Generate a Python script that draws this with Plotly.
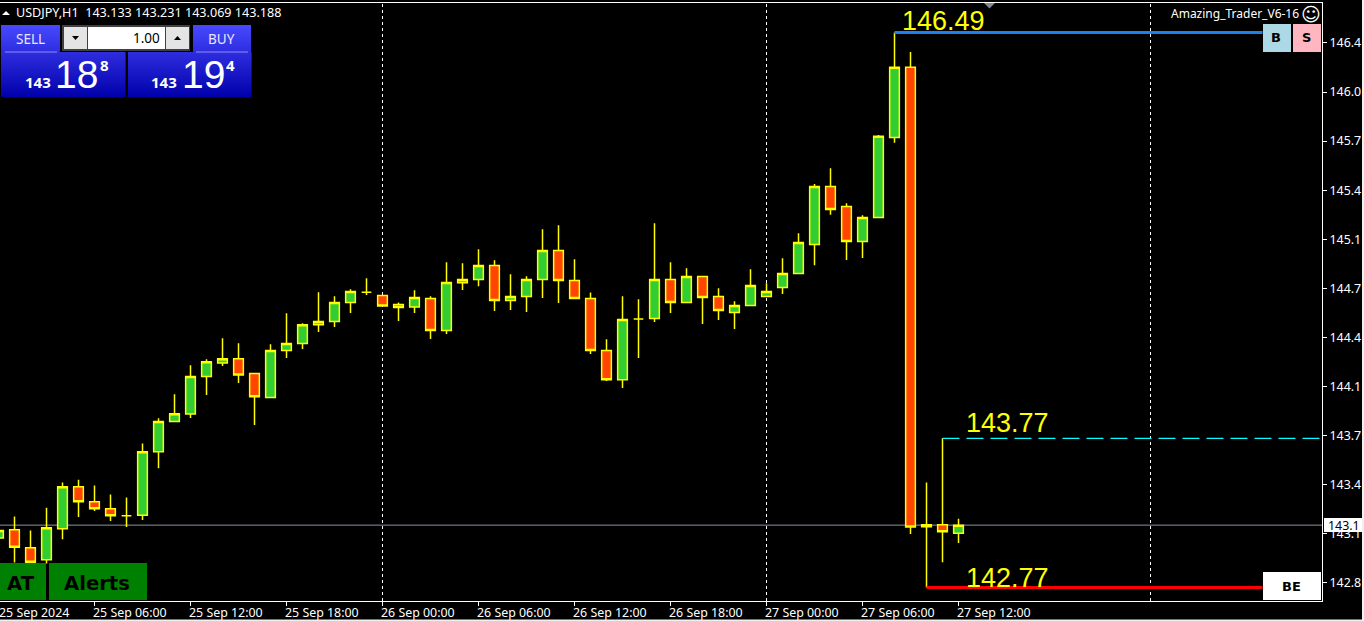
import plotly.graph_objects as go

# ---- data -------------------------------------------------------------
bar_index = list(range(61))
opens = [143.101,143.157,143.036,142.956,143.164,143.446,143.345,143.298,143.251,143.255,143.680,143.882,
         143.933,144.184,144.275,144.304,144.204,144.043,144.358,144.405,144.532,144.553,144.680,144.749,
         144.727,144.667,144.651,144.707,144.492,144.812,144.834,144.928,144.693,144.720,144.834,145.029,
         144.828,144.707,144.358,144.163,144.570,144.573,144.834,144.680,144.854,144.720,144.613,144.660,
         144.720,144.781,144.875,145.069,145.458,145.324,145.089,145.250,145.787,146.257,143.177,143.191,143.133]
highs = [143.152,143.246,143.152,143.305,143.474,143.493,143.454,143.394,143.374,143.736,143.904,144.065,
         144.259,144.300,144.441,144.407,144.210,144.400,144.608,144.541,144.749,144.722,144.769,144.843,
         144.727,144.680,144.763,144.722,144.950,144.944,145.038,144.964,144.870,144.856,145.172,145.199,
         144.971,144.747,144.434,144.722,144.702,145.212,144.950,144.910,144.854,144.776,144.689,144.903,
         144.810,144.977,145.145,145.474,145.581,145.346,145.266,145.803,146.490,146.359,143.474,143.770,143.231]
lows = [143.095,142.938,142.940,142.931,143.094,143.242,143.282,143.215,143.175,143.222,143.570,143.882,
        143.906,144.060,144.255,144.141,143.859,144.043,144.308,144.369,144.483,144.516,144.610,144.731,
        144.652,144.557,144.610,144.436,144.469,144.765,144.789,144.624,144.630,144.617,144.711,144.677,
        144.707,144.335,144.154,144.107,144.308,144.550,144.610,144.680,144.536,144.563,144.503,144.660,
        144.720,144.738,144.875,144.930,145.268,144.966,144.979,145.250,145.751,143.128,142.770,142.940,143.069]
closes = [143.152,143.040,142.940,143.171,143.446,143.345,143.298,143.251,143.251,143.680,143.882,143.935,
          144.184,144.284,144.304,144.194,144.049,144.358,144.405,144.532,144.553,144.680,144.754,144.749,
          144.657,144.647,144.714,144.492,144.814,144.834,144.928,144.693,144.720,144.834,145.029,144.828,
          144.707,144.358,144.163,144.566,144.570,144.834,144.680,144.854,144.714,144.626,144.660,144.794,
          144.754,144.875,145.083,145.458,145.304,145.089,145.250,145.794,146.257,143.176,143.191,143.144,143.188]

time_tick_index = [0, 6, 12, 18, 24, 30, 36, 42, 48, 54, 60]
time_tick_labels = ["25 Sep 2024", "25 Sep 06:00", "25 Sep 12:00", "25 Sep 18:00", "26 Sep 00:00",
                    "26 Sep 06:00", "26 Sep 12:00", "26 Sep 18:00", "27 Sep 00:00", "27 Sep 06:00", "27 Sep 12:00"]
day_separators = [24, 48, 72]
price_ticks = [146.420, 146.091, 145.762, 145.433, 145.105, 144.776, 144.447, 144.119, 143.790, 143.461, 143.132, 142.804]
price_tick_labels = ["146.4", "146.0", "145.7", "145.4", "145.1", "144.7", "144.4", "144.1", "143.7", "143.4", "143.1", "142.8"]

bid_price = 143.188
bid_label = "143.1"
high_level = 146.49
mid_level = 143.77
low_level = 142.77
high_level_x = [56, 79]
mid_level_x = [59, 83]
low_level_x = [58, 79]

# ---- layout helpers ---------------------------------------------------
W, H = 1364, 621
L, R, T, B = 0, 1322, 3, 601
X_RANGE = [1.5 / 16, (R + 1.5) / 16]
Y_RANGE = [142.6795, 146.688]
YEL, GRN, RED = "#FFFF00", "#32CD32", "#FF4500"
SANS = "Liberation Sans"
UI = "Noto Sans"
HEAVY = "DejaVu Sans"


def px(x):
    return (x - L) / (R - L)


def py(y):
    return 1 - (y - T) / (B - T)


shapes, annots = [], []


def rect(x0, y0, x1, y1, color):
    shapes.append(dict(type="rect", xref="paper", yref="paper", x0=px(x0), x1=px(x1), y0=py(y0), y1=py(y1),
                       fillcolor=color, line_width=0, layer="above"))


def poly(points, color):
    path = "M " + " L ".join(f"{px(a)},{py(b)}" for a, b in points) + " Z"
    shapes.append(dict(type="path", xref="paper", yref="paper", path=path, fillcolor=color, line_width=0, layer="above"))


def label(x, y, text, size, color="#FFFFFF", anchor="left", family=UI):
    annots.append(dict(xref="paper", yref="paper", x=px(x), y=py(y), text=text, showarrow=False,
                       xanchor=anchor, yanchor="middle", borderpad=0, borderwidth=0,
                       font=dict(size=size, color=color, family=family)))


def gradient(x0, y0, x1, y1, top=25, bottom=97):
    y = y0
    while y < y1:
        f = (y - top) / (bottom - top)
        c = f"rgb({int(72 * (1 - f))},{int(72 * (1 - f))},{int(255 - 85 * f)})"
        rect(x0, y, x1, min(y + 1.5, y1), c)
        y += 1


fig = go.Figure()
fig.add_trace(go.Candlestick(
    x=bar_index, open=opens, high=highs, low=lows, close=closes, whiskerwidth=0,
    increasing=dict(fillcolor=GRN, line=dict(color=YEL, width=1.5)),
    decreasing=dict(fillcolor=RED, line=dict(color=YEL, width=1.5)),
    hoverinfo="skip", showlegend=False))
fig.add_trace(go.Scatter(x=high_level_x, y=[high_level, high_level], mode="lines",
                         line=dict(color="#1E80E8", width=3), hoverinfo="skip", showlegend=False))
fig.add_trace(go.Scatter(x=low_level_x, y=[low_level, low_level], mode="lines",
                         line=dict(color="#FF0000", width=3), hoverinfo="skip", showlegend=False))
fig.add_trace(go.Scatter(x=mid_level_x, y=[mid_level, mid_level], mode="lines",
                         line=dict(color="#00FFFF", width=1.3, dash="17px,7px"), hoverinfo="skip", showlegend=False))

for sep in day_separators:
    shapes.append(dict(type="line", xref="x", yref="paper", x0=sep, x1=sep, y0=0, y1=1, layer="below",
                       line=dict(color="#FFFFFF", width=1, dash="3px,3px")))
shapes.append(dict(type="line", xref="paper", yref="y", x0=0, x1=1, y0=bid_price, y1=bid_price, layer="below",
                   line=dict(color="#8A94A0", width=1)))

# time labels, left aligned on their tick as in the terminal
for i, t in zip(time_tick_index, time_tick_labels):
    annots.append(dict(xref="x", yref="paper", x=max(i, X_RANGE[0]), y=py(612.5), text=t, showarrow=False,
                       xanchor="left", yanchor="middle", xshift=(-2 if i else -1), borderpad=0, borderwidth=0,
                       font=dict(size=12.4, color="#FFFFFF", family=UI)))

# yellow level captions
annots.append(dict(xref="paper", yref="y", x=px(943), y=146.49, yshift=12, text=f"{high_level:.2f}", showarrow=False,
                   xanchor="center", yanchor="middle", font=dict(size=27, color=YEL, family=SANS)))
annots.append(dict(xref="paper", yref="y", x=px(1007.5), y=143.77, yshift=15, text=f"{mid_level:.2f}", showarrow=False,
                   xanchor="center", yanchor="middle", font=dict(size=27, color=YEL, family=SANS)))
annots.append(dict(xref="paper", yref="y", x=px(1007.5), y=142.77, yshift=10, text=f"{low_level:.2f}", showarrow=False,
                   xanchor="center", yanchor="middle", font=dict(size=27, color=YEL, family=SANS)))

# header text
poly([(2, 15), (10, 15), (6, 11)], "#FFFFFF")
label(16, 12.5, "USDJPY,H1  143.133 143.231 143.069 143.188", 12.6)
label(1299, 14, "Amazing_Trader_V6-16", 12, anchor="right")
label(1310.5, 13.5, "☺", 19, family="DejaVu Sans", anchor="center")
poly([(984, 3), (995, 3), (989.5, 8.5)], "#808894")

# trade panel
gradient(1, 25, 60, 52)
gradient(193, 25, 251, 52)
gradient(1, 52, 125.5, 97)
gradient(128, 52, 251.5, 97)
rect(5, 51.5, 57, 52.5, "#8C8CFF")
rect(196, 51.5, 248, 52.5, "#8C8CFF")
rect(62, 25, 190, 51, "#404040")
rect(64, 27, 87, 49, "#E4E4E4")
rect(88, 27, 165, 49, "#FFFFFF")
rect(166, 27, 189, 49, "#E4E4E4")
poly([(72, 36), (79, 36), (75.5, 40)], "#000000")
poly([(174, 40), (181, 40), (177.5, 36)], "#000000")
label(160, 38, "1.00", 13.5, "#000000", "right")
label(30.5, 38.5, "SELL", 13.5, "#E8E8FF", "center")
label(221.5, 38.5, "BUY", 13.5, "#E8E8FF", "center")
label(37.5, 82.5, "<b>143</b>", 15, anchor="center")
label(76.5, 74, "18", 39, anchor="center", family=SANS)
label(104, 65, "<b>8</b>", 15, anchor="center")
label(163.5, 82.5, "<b>143</b>", 15, anchor="center")
label(203, 74, "19", 39, anchor="center", family=SANS)
label(230.5, 65, "<b>4</b>", 15, anchor="center")

# buttons
rect(1263, 24, 1291, 52, "#ADD8E6")
rect(1293, 24, 1321, 52, "#FFB6C1")
rect(1263, 572, 1321, 600, "#FFFFFF")
label(1276, 38, "<b>B</b>", 13, "#000000", "center", HEAVY)
label(1306, 38, "<b>S</b>", 13, "#000000", "center", HEAVY)
label(1291, 586, "<b>BE</b>", 13, "#000000", "center", HEAVY)
rect(0, 563, 46, 600, "#008000")
rect(49, 563, 147, 600, "#008000")
label(21, 583, "<b>AT</b>", 19.6, "#000000", "center", HEAVY)
label(97, 583, "<b>Alerts</b>", 19.6, "#000000", "center", HEAVY)

# live price tag on the axis
rect(1324, 518, 1364, 532, "#FFFFFF")
annots.append(dict(xref="paper", yref="y", x=px(1329), y=bid_price, text=bid_label, showarrow=False,
                   xanchor="left", yanchor="middle", xshift=-1, borderpad=0, borderwidth=0,
                   font=dict(size=12.4, color="#000000", family=UI)))

# window edge
rect(0, 619.5, 1364, 621, "#F0F0F0")
rect(1362, 0, 1364, 621, "#F0F0F0")

fig.update_layout(
    width=W, height=H, margin=dict(l=L, r=W - R, t=T, b=H - B, pad=0, autoexpand=False),
    paper_bgcolor="#000000", plot_bgcolor="#000000", boxgap=0.394, boxgroupgap=0,
    shapes=shapes, annotations=annots, showlegend=False,
    xaxis=dict(range=X_RANGE, rangeslider=dict(visible=False), showgrid=False, zeroline=False, showline=True,
               linecolor="#FFFFFF", linewidth=1, mirror=True, tickmode="array", tickvals=time_tick_index,
               showticklabels=False, ticks="outside", ticklen=4, tickcolor="#FFFFFF", tickwidth=1),
    yaxis=dict(range=Y_RANGE, side="right", showgrid=False, zeroline=False, showline=True, linecolor="#FFFFFF",
               linewidth=1, tickmode="array", tickvals=price_ticks, ticktext=price_tick_labels,
               ticks="outside", ticklen=4, tickcolor="#FFFFFF", tickwidth=1,
               tickfont=dict(size=12.4, color="#FFFFFF", family=UI)),
)

fig.write_html("out.html", config=dict(displayModeBar=False),
               post_script="document.body.style.margin='0';document.body.style.overflow='hidden';")
